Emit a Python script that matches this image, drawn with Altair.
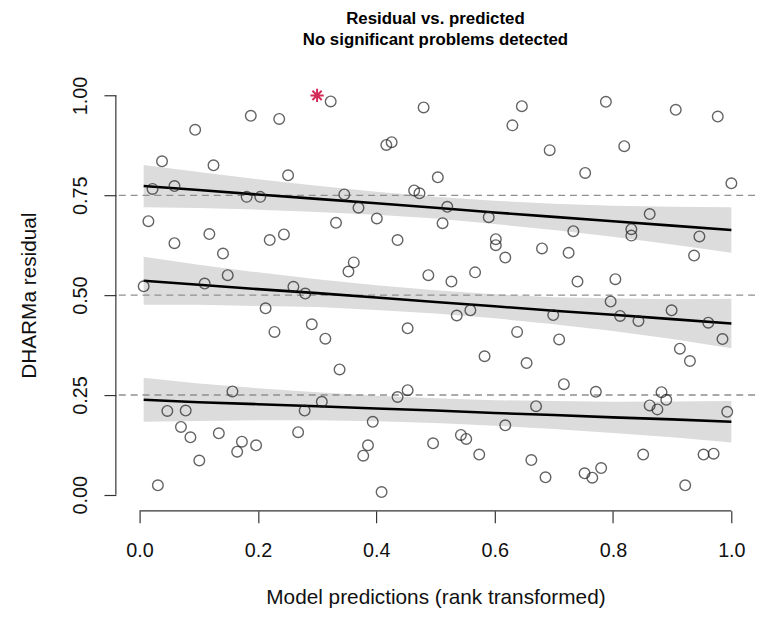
import altair as alt
import pandas as pd

# ---- residual points (rank-transformed prediction, scaled residual) ----
pred_x = [0.323, 0.188, 0.236, 0.094, 0.038, 0.125, 0.251, 0.022, 0.059, 0.181,
          0.204, 0.346, 0.015, 0.332, 0.059, 0.118, 0.220, 0.244, 0.141, 0.149,
          0.007, 0.110, 0.260, 0.280, 0.353, 0.213, 0.480, 0.646, 0.630, 0.417,
          0.426, 0.693, 0.504, 0.464, 0.473, 0.370, 0.520, 0.590, 0.401, 0.512,
          0.436, 0.602, 0.602, 0.618, 0.680, 0.362, 0.488, 0.567, 0.527, 0.559,
          0.788, 0.906, 0.977, 0.819, 0.753, 1.000, 0.862, 0.733, 0.831, 0.831,
          0.946, 0.725, 0.937, 0.740, 0.804, 0.796, 0.899, 0.228, 0.291, 0.314,
          0.338, 0.157, 0.047, 0.078, 0.070, 0.086, 0.134, 0.173, 0.165, 0.197,
          0.101, 0.031, 0.279, 0.308, 0.268, 0.536, 0.453, 0.638, 0.699, 0.583,
          0.654, 0.436, 0.453, 0.670, 0.394, 0.618, 0.386, 0.378, 0.496, 0.543,
          0.552, 0.574, 0.662, 0.686, 0.409, 0.812, 0.843, 0.961, 0.985, 0.709,
          0.913, 0.930, 0.717, 0.771, 0.882, 0.890, 0.862, 0.875, 0.993, 0.851,
          0.953, 0.970, 0.752, 0.765, 0.780, 0.922]
resid_y = [0.985, 0.949, 0.941, 0.914, 0.835, 0.825, 0.800, 0.766, 0.773, 0.746,
           0.746, 0.752, 0.685, 0.681, 0.630, 0.653, 0.638, 0.652, 0.604, 0.550,
           0.522, 0.529, 0.521, 0.504, 0.559, 0.467, 0.970, 0.973, 0.925, 0.876,
           0.883, 0.863, 0.795, 0.762, 0.755, 0.719, 0.721, 0.695, 0.692, 0.680,
           0.638, 0.640, 0.625, 0.594, 0.617, 0.582, 0.550, 0.557, 0.534, 0.462,
           0.984, 0.964, 0.947, 0.873, 0.806, 0.780, 0.703, 0.660, 0.665, 0.649,
           0.647, 0.606, 0.599, 0.534, 0.540, 0.484, 0.462, 0.408, 0.427, 0.391,
           0.314, 0.259, 0.210, 0.211, 0.170, 0.144, 0.154, 0.133, 0.108, 0.124,
           0.086, 0.024, 0.211, 0.233, 0.157, 0.449, 0.417, 0.408, 0.450, 0.347,
           0.330, 0.245, 0.262, 0.222, 0.183, 0.174, 0.124, 0.098, 0.129, 0.150,
           0.140, 0.101, 0.087, 0.044, 0.007, 0.448, 0.435, 0.431, 0.390, 0.389,
           0.366, 0.335, 0.277, 0.258, 0.257, 0.238, 0.224, 0.214, 0.208, 0.101,
           0.101, 0.103, 0.054, 0.043, 0.067, 0.024]

# ---- outlier (drawn as red asterisk) ----
outlier_x = [0.300]
outlier_y = [1.000]

# ---- quantile regression fits with confidence bands ----
fit_x = [0.007, 0.1, 0.2, 0.3, 0.4, 0.5, 0.6, 0.7, 0.8, 0.9, 1.0]
q25_fit = [0.238, 0.232, 0.227, 0.222, 0.216, 0.211, 0.205, 0.200, 0.194, 0.189, 0.183]
q25_lo = [0.183, 0.185, 0.187, 0.187, 0.184, 0.180, 0.173, 0.165, 0.155, 0.144, 0.131]
q25_hi = [0.293, 0.279, 0.267, 0.257, 0.248, 0.242, 0.237, 0.235, 0.233, 0.234, 0.235]
q50_fit = [0.536, 0.526, 0.515, 0.505, 0.494, 0.483, 0.472, 0.461, 0.451, 0.440, 0.429]
q50_lo = [0.476, 0.476, 0.473, 0.470, 0.463, 0.454, 0.442, 0.427, 0.410, 0.390, 0.367]
q50_hi = [0.596, 0.576, 0.557, 0.540, 0.525, 0.512, 0.502, 0.495, 0.492, 0.490, 0.491]
q75_fit = [0.773, 0.763, 0.752, 0.741, 0.730, 0.719, 0.707, 0.696, 0.685, 0.674, 0.663]
q75_lo = [0.720, 0.718, 0.714, 0.708, 0.701, 0.692, 0.678, 0.663, 0.646, 0.627, 0.606]
q75_hi = [0.826, 0.808, 0.790, 0.774, 0.759, 0.746, 0.736, 0.729, 0.724, 0.721, 0.720]

ref_levels = [0.25, 0.50, 0.75]
x_ticks = [0.0, 0.2, 0.4, 0.6, 0.8, 1.0]
y_ticks = [0.00, 0.25, 0.50, 0.75, 1.00]

title_lines = ["Residual vs. predicted", "No significant problems detected"]
x_title = "Model predictions (rank transformed)"
y_title = "DHARMa residual"

# ---- tables ----
points = pd.DataFrame({"x": pred_x, "y": resid_y})
outliers = pd.DataFrame({"x": outlier_x, "y": outlier_y})
fit_rows = []
for q, f, lo, hi in [("0.25", q25_fit, q25_lo, q25_hi),
                     ("0.50", q50_fit, q50_lo, q50_hi),
                     ("0.75", q75_fit, q75_lo, q75_hi)]:
    for xv, fv, lv, hv in zip(fit_x, f, lo, hi):
        fit_rows.append({"q": q, "x": xv, "fit": fv, "lo": lv, "hi": hv})
fits = pd.DataFrame(fit_rows)
refs = pd.DataFrame({"y": ref_levels})
yaxis_df = pd.DataFrame({"y": [min(y_ticks)], "y2": [max(y_ticks)]})
xaxis_df = pd.DataFrame({"x": [min(x_ticks)], "x2": [max(x_ticks)]})

W, H = 646, 436
xs = alt.Scale(domain=[-0.04, 1.04], nice=False, zero=False)
ys = alt.Scale(domain=[-0.04, 1.04], nice=False, zero=False)

FONT = "Liberation Sans"
x_axis = alt.Axis(values=x_ticks, format=".1f", title=x_title, labelPadding=18,
                  titlePadding=27)
y_axis = alt.Axis(values=y_ticks, format=".2f", title=y_title, labelAngle=270,
                  labelAlign="center", labelBaseline="bottom", labelPadding=14,
                  titlePadding=31)

X = lambda f: alt.X(f, type="quantitative", scale=xs, axis=x_axis)
Y = lambda f: alt.Y(f, type="quantitative", scale=ys, axis=y_axis)

band = alt.Chart(fits).mark_area(color="#dcdcdc", opacity=1).encode(
    x=X("x"), y=Y("lo"), y2="hi:Q", detail="q:N")

ref = alt.Chart(refs).mark_rule(color="#8f8f8f", strokeDash=[7, 5], strokeWidth=1.3).encode(
    y=Y("y"))

fitline = alt.Chart(fits).mark_line(color="black", strokeWidth=2.6).encode(
    x=X("x"), y=Y("fit"), detail="q:N")

pts = alt.Chart(points).mark_point(shape="circle", filled=False, size=115,
                                   strokeWidth=1.4, color="#222222").encode(
    x=X("x"), y=Y("y"))

asterisk = "M -1 0 L 1 0 M 0 -1 L 0 1 M -0.7 -0.7 L 0.7 0.7 M -0.7 0.7 L 0.7 -0.7"
outl = alt.Chart(outliers).mark_point(shape=asterisk, filled=False, size=180,
                                      strokeWidth=2.0, color="#d42a58", opacity=1).encode(
    x=X("x"), y=Y("y"))

yline = alt.Chart(yaxis_df).mark_rule(color="#333333", strokeWidth=1.2).encode(
    x=alt.value(0), y=Y("y"), y2="y2:Q")
xline = alt.Chart(xaxis_df).mark_rule(color="#333333", strokeWidth=1.2).encode(
    y=alt.value(H), x=X("x"), x2="x2:Q")

chart = alt.layer(band, ref, fitline, pts, outl, yline, xline).properties(
    width=W, height=H,
    autosize=alt.AutoSizeParams(type="none"),
    padding={"left": 109, "top": 69, "right": 4, "bottom": 95},
    title=alt.TitleParams(title_lines, font=FONT, fontSize=17,
                          fontWeight="bold", anchor="middle", color="black",
                          lineHeight=22, offset=27),
).configure_view(stroke=None).configure_axis(
    grid=False, domain=False, tickColor="#333333", tickSize=12, tickWidth=1.2,
    labelFont=FONT, labelFontSize=20, labelColor="#111111",
    titleFont=FONT, titleFontSize=21, titleFontWeight="normal", titleColor="#111111",
)

chart.save("out.html", embed_options={"renderer": "svg", "actions": False})
